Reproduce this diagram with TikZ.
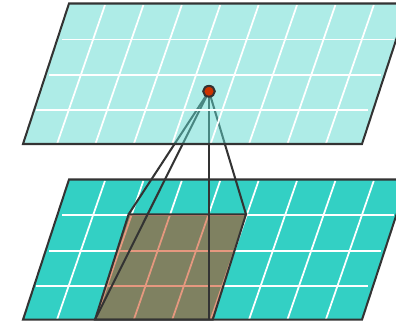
\documentclass[tikz,border=0pt]{standalone}
\usepackage{tikz}
\definecolor{planeA}{HTML}{33D0C4}
\definecolor{planeB}{HTML}{5DD9CF}
\definecolor{edgeC}{HTML}{333333}
\definecolor{dotC}{HTML}{CC3300}
\newcommand{\GRIDLINES}[1]{
    \foreach \i in {0,...,7} {
        \draw[gridline] (57+38.4*\i,144+#1) -- (105+38.4*\i,5+#1);
    }
    \draw[gridline] (36,110+#1) -- (368,110+#1);
    \draw[gridline] (49,75+#1) -- (381,75+#1);
    \draw[gridline] (62,39.5+#1) -- (394,39.5+#1);
}
\tikzset{
    gridline/.style={white,line width=1.25pt},
    edge/.style={edgeC,line width=1.45pt,line join=miter}
}
\begin{document}
\begin{tikzpicture}[x=0.025cm,y=-0.025cm]
    \useasboundingbox (0,0) rectangle (396,321);
    \clip (0,0) rectangle (396,321);

    \coordinate (a) at (23,144);
    \coordinate (b) at (362,144);
    \coordinate (c) at (408,3.5);
    \coordinate (d) at (69,3.5);

    \coordinate (e) at (23,319.7);
    \coordinate (f) at (362,319.7);
    \coordinate (g) at (408,179.5);
    \coordinate (h) at (69,179.5);

    \coordinate (p1) at (95,319.7);
    \coordinate (p2) at (212.7,319.7);
    \coordinate (p3) at (246,214.3);
    \coordinate (p4) at (128.6,214.3);
    \coordinate (q) at (209,319.7);
    \coordinate (m) at (209,91.3);

    % lower plane
    \fill[planeA] (e) -- (f) -- (g) -- (h) -- cycle;
    \GRIDLINES{175.7}
    \fill[dotC,opacity=0.5] (p1) -- (p2) -- (p3) -- (p4) -- cycle;
    \draw[edge] (p1) -- (p2) -- (p3) -- (p4) -- cycle;
    \draw[edge] (e) -- (f) -- (g) -- (h) -- cycle;

    % rays
    \draw[edge] (m) -- (p1);
    \draw[edge] (m) -- (p4);
    \draw[edge] (m) -- (q);
    \draw[edge] (m) -- (p3);

    % upper plane
    \fill[planeB,opacity=0.5] (a) -- (b) -- (c) -- (d) -- cycle;
    \GRIDLINES{0}
    \draw[edge] (a) -- (b) -- (c) -- (d) -- cycle;

    \draw[edge,fill=dotC] (m) ellipse (5.8 and 5.4);
\end{tikzpicture}
\end{document}
